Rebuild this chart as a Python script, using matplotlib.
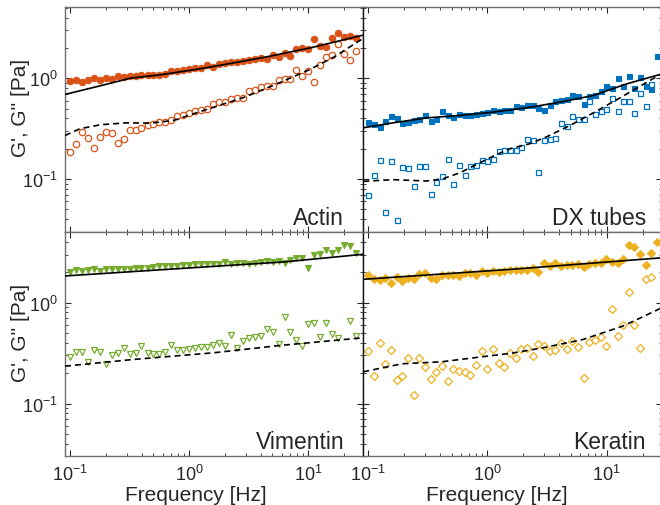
import numpy as np
import matplotlib.pyplot as plt
from matplotlib.ticker import LogLocator, NullFormatter

plt.rcParams['font.family'] = ['Liberation Sans', 'DejaVu Sans']
plt.rcParams['mathtext.fontset'] = 'custom'
plt.rcParams['mathtext.rm'] = 'Liberation Sans'
plt.rcParams['mathtext.it'] = 'Liberation Sans:italic'
plt.rcParams['mathtext.bf'] = 'Liberation Sans:bold'

# ── frequencies (Hz) ──────────────────────────────────────────────────────────
freq_left = [0.100, 0.112, 0.126, 0.141, 0.158, 0.178, 0.200, 0.224, 0.251, 0.282,
             0.316, 0.355, 0.398, 0.447, 0.501, 0.562, 0.631, 0.708, 0.794, 0.891,
             1.00, 1.12, 1.26, 1.41, 1.58, 1.78, 2.00, 2.24, 2.51, 2.82,
             3.16, 3.55, 3.98, 4.47, 5.01, 5.62, 6.31, 7.08, 7.94, 8.91,
             10.0, 11.2, 12.6, 14.1, 15.8, 17.8, 20.0, 22.4, 25.1]
freq_right = [0.100, 0.1116, 0.1245, 0.1389, 0.1549, 0.1728, 0.1928, 0.2151, 0.2400, 0.2677,
              0.2986, 0.3332, 0.3717, 0.4147, 0.4626, 0.5161, 0.5758, 0.6424, 0.7167, 0.7995,
              0.8920, 0.9952, 1.110, 1.239, 1.382, 1.542, 1.720, 1.919, 2.141, 2.388,
              2.665, 2.973, 3.317, 3.700, 4.128, 4.606, 5.138, 5.732, 6.395, 7.135,
              7.960, 8.881, 9.905, 11.05, 12.33, 13.75, 15.34, 17.12, 19.10, 21.31,
              23.77, 26.52]
nan = np.nan

# ── Actin ─────────────────────────────────────────────────────────────────────
actin_gp = [0.933, 0.955, 0.919, 0.962, 1.014, 0.962, 1.007, 0.977, 1.046, 1.030,
            1.054, 1.062, 1.078, 1.078, 1.086, 1.078, 1.103, 1.190, 1.190, 1.208,
            1.246, 1.255, 1.265, 1.354, 1.304, 1.375, 1.417, 1.439, 1.449, 1.483,
            1.517, 1.541, 1.600, 1.553, 1.714, 1.637, 1.767, 1.675, 1.935, 1.981,
            1.951, 2.449, 2.104, 2.027, 2.488, 2.810, 2.546, 2.626, 2.525]
actin_gpp = [0.186, 0.222, 0.294, 0.256, 0.201, 0.262, 0.290, 0.283, 0.227, 0.247,
             0.303, 0.308, 0.317, 0.345, 0.348, 0.364, 0.367, 0.389, 0.420, 0.433,
             0.450, 0.471, 0.485, 0.493, 0.557, 0.574, 0.587, 0.619, 0.643, 0.643,
             0.743, 0.755, 0.826, 0.839, 0.833, 0.955, 0.977, 0.991, 1.199, 1.062,
             1.181, 0.926, 1.364, 1.637, 1.714, 2.168, 1.740, 1.517, 1.864]
actin_fit_f = [0.0908, 0.179, 0.32, 0.57, 1.24, 2.37, 4.5, 10.4, 29.0]
actin_fit_gp = [0.69, 0.84, 1.00, 1.08, 1.24, 1.42, 1.63, 2.00, 2.68]
actin_fit_f2 = [0.0908, 0.121, 0.179, 0.30, 0.47, 0.74, 1.24, 2.86, 5.46, 10.1, 16.3, 25.6, 29.0]
actin_fit_gpp = [0.270, 0.315, 0.345, 0.361, 0.358, 0.381, 0.467, 0.643, 0.879, 1.208, 1.613, 2.27, 2.49]

# ── DX tubes ──────────────────────────────────────────────────────────────────
dx_gp = [0.366, 0.353, 0.327, 0.375, 0.423, 0.404, 0.358, 0.366, 0.389, 0.395,
         0.436, 0.378, 0.395, 0.471, 0.433, 0.411, 0.440, 0.433, 0.433, 0.443,
         0.447, 0.461, 0.482, 0.475, 0.485, 0.485, 0.528, 0.516, 0.544, 0.536,
         0.508, 0.485, 0.536, 0.596, 0.605, 0.624, 0.684, 0.668, 0.552, 0.663,
         0.689, 0.738, 0.846, 0.808, 1.014, 0.846, 1.046, 0.808, 1.038, 0.846,
         0.783, 1.650]
dx_gpp = [0.0700, 0.1095, 0.1529, 0.0471, 0.1518, 0.0395, 0.1314, 0.1294, 0.0858, 0.1344,
          0.1344, 0.0715, 0.0933, 0.1070, 0.1576, 0.0892, 0.1375, 0.1103, 0.1344, 0.1365,
          0.1553, 0.1518, 0.1589, 0.1891, 0.1935, 0.1920, 0.1950, 0.2073, 0.2468, 0.2449,
          0.1172, 0.2449, 0.2506, 0.2544, 0.3581, 0.3345, 0.4170, 0.3954, 0.3954, 0.5913,
          0.4364, 0.4710, 0.4929, 0.6334, 0.4745, 0.6005, 0.5960, 0.4533, 0.7149, 0.5358,
          0.8849, nan]
dx_fit_f = [0.0908, 0.162, 0.309, 0.588, 1.12, 2.12, 4.05, 7.7, 14.7, 27.8]
dx_fit_gp = [0.322, 0.361, 0.404, 0.427, 0.461, 0.508, 0.578, 0.673, 0.878, 1.086]
dx_fit_f2 = [0.0908, 0.162, 0.309, 0.425, 0.588, 1.12, 1.54, 2.27, 3.13, 4.74, 8.21, 13.7, 23.0, 27.8]
dx_fit_gpp = [0.0948, 0.0985, 0.0955, 0.1007, 0.1154, 0.1688, 0.1995, 0.224, 0.262, 0.332,
              0.471, 0.663, 0.948, 1.078]

# ── Vimentin ──────────────────────────────────────────────────────────────────
vim_gp = [2.030, 2.109, 2.061, 2.093, 2.142, 2.061, 2.175, 2.142, 2.142, 2.175,
          2.175, 2.208, 2.208, 2.225, 2.259, 2.294, 2.311, 2.294, 2.311, 2.346,
          2.382, 2.400, 2.438, 2.400, 2.400, 2.438, 2.551, 2.419, 2.456, 2.456,
          2.400, 2.494, 2.551, 2.571, 2.532, 2.571, 2.494, 2.651, 2.754, 2.796,
          2.191, 2.972, 3.064, 3.332, 3.087, 3.332, 3.736, 3.651, 3.087]
vim_gpp = [0.2885, 0.3234, 0.3234, 0.2573, 0.3360, 0.3259, 0.2439, 0.3020, 0.3185, 0.3571,
           0.3113, 0.3185, 0.3681, 0.3185, 0.3113, 0.3066, 0.3234, 0.3767, 0.3360, 0.3411,
           0.3464, 0.3571, 0.3598, 0.3654, 0.3767, 0.3943, 0.3710, 0.4811, 0.3571, 0.4162,
           0.4419, 0.4558, 0.4664, 0.5513, 0.5108, 0.3883, 0.7145, 0.5147, 0.4255, 0.3710,
           0.6191, 0.6286, 0.4594, 0.6335, 0.4919, 0.4488, nan, 0.6521, 0.4664]
vim_fit_f = [0.0908, 1.82, 6.2, 29.0]
vim_fit_gp = [1.839, 2.311, 2.532, 3.017]
vim_fit_f2 = [0.0908, 0.340, 1.60, 5.82, 29.0]
vim_fit_gpp = [0.2348, 0.2734, 0.3185, 0.3767, 0.4491]

# ── Keratin ───────────────────────────────────────────────────────────────────
ker_gp = [1.896, 1.704, 1.691, 1.757, 1.567, 1.811, 1.640, 1.770, 1.717, 1.925,
          1.954, 1.743, 1.704, 1.882, 1.896, 1.896, 1.853, 1.954, 1.954, 1.882,
          2.046, 1.984, 2.077, 2.000, 2.062, 2.125, 2.125, 2.125, 2.125, 2.191,
          2.030, 2.494, 2.311, 2.456, 2.329, 2.364, 2.364, 2.400, 2.276, 2.419,
          2.456, 2.494, 2.733, 2.513, 2.494, 2.733, 3.707, 3.596, 3.064, 2.346,
          3.135, 4.033]
ker_gpp = [0.3334, 0.1868, 0.3942, 0.2439, 0.3411, 0.1704, 0.1868, 0.2798, 0.1229, 0.2841,
           0.2312, 0.1757, 0.2047, 0.2330, 0.1692, 0.2209, 0.2095, 0.2063, 0.1911, 0.2402,
           0.3284, 0.2176, 0.3437, 0.2534, 0.2312, 0.3137, 0.2819, 0.3464, 0.3517, 0.2953,
           0.3913, 0.3738, 0.3284, 0.3385, 0.3942, 0.3490, 0.4127, 0.3653, 0.1784, 0.4034,
           0.4222, 0.4557, 0.3681, 0.8712, 0.4628, 0.5997, 1.275, 0.6042, 0.3571, 1.704,
           1.783, nan]
ker_fit_f = [0.0908, 1.60, 27.8]
ker_fit_gp = [1.704, 2.142, 2.773]
ker_fit_f2 = [0.0908, 0.1916, 0.4148, 0.8977, 1.601, 2.931, 6.34, 13.7, 20.2, 27.9]
ker_fit_gpp = [0.2064, 0.2478, 0.2595, 0.2907, 0.316, 0.3573, 0.4318, 0.5861, 0.7261, 0.8712]

# ── panel setup ───────────────────────────────────────────────────────────────
W, H = 660, 506
x0, xm, x1 = 65, 363.3, 661.6
y0, ym, y1 = 8.3, 232.7, 457.3

panels = [
    dict(name='Actin', rect=(x0, y0, xm, ym), color='#D95319', marker='o', ms=4.6,
         f=freq_left, gp=actin_gp, gpp=actin_gpp,
         ff=actin_fit_f, fgp=actin_fit_gp, ff2=actin_fit_f2, fgpp=actin_fit_gpp,
         tx=0.936, left=True, bottom=False),
    dict(name='DX tubes', rect=(xm, y0, x1, ym), color='#0072BD', marker='s', ms=3.6,
         f=freq_right, gp=dx_gp, gpp=dx_gpp,
         ff=dx_fit_f, fgp=dx_fit_gp, ff2=dx_fit_f2, fgpp=dx_fit_gpp,
         tx=0.948, left=False, bottom=False),
    dict(name='Vimentin', rect=(x0, ym, xm, y1), color='#77AC30', marker='v', ms=5.0,
         f=freq_left, gp=vim_gp, gpp=vim_gpp,
         ff=vim_fit_f, fgp=vim_fit_gp, ff2=vim_fit_f2, fgpp=vim_fit_gpp,
         tx=0.936, left=True, bottom=True),
    dict(name='Keratin', rect=(xm, ym, x1, y1), color='#EDB120', marker='D', ms=4.3,
         f=freq_right, gp=ker_gp, gpp=ker_gpp,
         ff=ker_fit_f, fgp=ker_fit_gp, ff2=ker_fit_f2, fgpp=ker_fit_gpp,
         tx=0.948, left=False, bottom=True),
]

fig = plt.figure(figsize=(W / 100, H / 100), dpi=100)

for p in panels:
    l, t, r, b = p['rect']
    ax = fig.add_axes([l / W, 1 - b / H, (r - l) / W, (b - t) / H])
    ax.set_xscale('log')
    ax.set_yscale('log')
    ax.set_xlim(0.0908, 28.9)
    ax.set_ylim(0.030, 5.05)

    c = p['color']
    ax.plot(p['f'], p['gp'], linestyle='none', marker=p['marker'], ms=p['ms'],
            mfc=c, mec=c, mew=0.8, zorder=2)
    ax.plot(p['f'], p['gpp'], linestyle='none', marker=p['marker'], ms=p['ms'],
            mfc='white', mec=c, mew=0.9, zorder=2)
    ax.plot(p['ff'], p['fgp'], color='black', lw=1.2, zorder=3)
    ax.plot(p['ff2'], p['fgpp'], color='black', lw=1.2, dashes=(3.6, 2.4), zorder=3)

    ax.xaxis.set_major_locator(LogLocator(base=10, numticks=10))
    ax.xaxis.set_minor_locator(LogLocator(base=10, subs=np.arange(2, 10), numticks=20))
    ax.yaxis.set_major_locator(LogLocator(base=10, numticks=10))
    ax.yaxis.set_minor_locator(LogLocator(base=10, subs=np.arange(2, 10), numticks=20))
    ax.xaxis.set_minor_formatter(NullFormatter())
    ax.yaxis.set_minor_formatter(NullFormatter())
    ax.tick_params(which='both', direction='in', top=True, right=True,
                   colors='#262626', labelsize=13)
    ax.tick_params(which='major', length=4.5, width=0.8)
    ax.tick_params(which='minor', length=2.3, width=0.6)
    ax.tick_params(axis='x', pad=5.5)
    ax.tick_params(axis='y', pad=5)
    for s in ax.spines.values():
        s.set_color('#6e6e6e')
        s.set_linewidth(1.0)
    if not p['left']:
        ax.spines['left'].set_color('#111111')
        ax.tick_params(labelleft=False)
    else:
        ax.set_ylabel("G', G'' [Pa]", fontsize=15, color='#262626')
        ax.yaxis.set_label_coords(-0.118, 0.555)
    if p['bottom']:
        ax.set_xlabel('Frequency [Hz]', fontsize=15, color='#262626')
        ax.xaxis.set_label_coords(0.439 if p['left'] else 0.447, -0.130)
    else:
        ax.tick_params(labelbottom=False)

    ax.text(p['tx'], 0.035, p['name'], transform=ax.transAxes, ha='right',
            va='baseline', fontsize=16.5, color='#262626')

fig.savefig('out.png', dpi=100)
